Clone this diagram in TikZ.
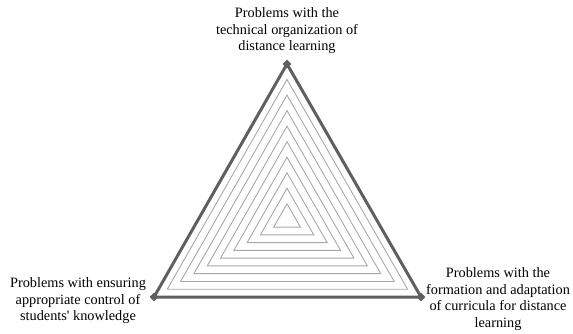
\documentclass[tikz,border=0pt]{standalone}
\usepackage{fontspec}
\setmainfont{Liberation Serif}[Ligatures=TeXOff]
\usetikzlibrary{shapes.geometric,calc}
\definecolor{outer}{HTML}{5F5F5F}
\definecolor{inner}{HTML}{A8A8A8}
\begin{document}
\begin{tikzpicture}[x=1pt,y=-1pt,
  lbl/.style={align=center,font=\fontsize{14.3}{16.5}\selectfont,inner sep=0pt},
  vtx/.style={diamond,fill=outer,draw=none,minimum size=9pt,inner sep=0pt},
  outertri/.style={draw=outer,line width=3pt,line join=miter},
  innertri/.style={draw=inner,line width=0.9pt}]
\useasboundingbox (0,0) rectangle (573,334);
\coordinate (A) at (287,64);
\coordinate (B) at (154,297);
\coordinate (C) at (421,297);
\coordinate (G) at (287,219.33);
\foreach \k in {1,...,9}{
  \pgfmathsetmacro{\s}{\k/10}
  \draw[innertri] ($(G)!\s!(A)$) -- ($(G)!\s!(B)$) -- ($(G)!\s!(C)$) -- cycle;
}
\draw[outertri] (A) -- (B) -- (C) -- cycle;
\node[vtx] (vA) at (A) {};
\node[vtx] (vB) at (B) {};
\node[vtx] (vC) at (C) {};
\node[lbl] (tA) at (287,31) {Problems with the\\technical organization of\\distance learning};
\node[lbl] (tB) at (78,301) {Problems with ensuring\\appropriate control of\\students' knowledge};
\node[lbl] (tC) at (498,299) {Problems with the\\formation and adaptation\\of curricula for distance\\learning};
\end{tikzpicture}
\end{document}
